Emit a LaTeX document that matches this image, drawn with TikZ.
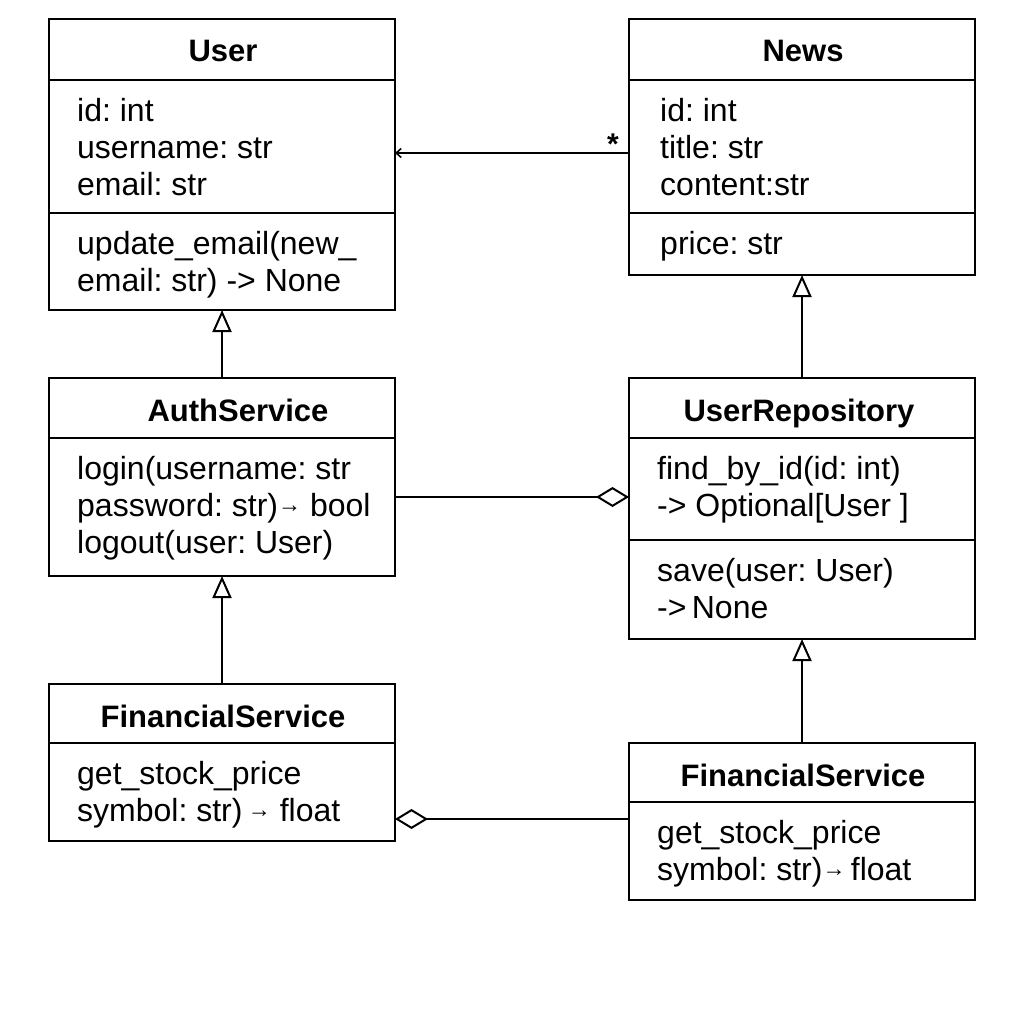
\documentclass[tikz,border=0pt]{standalone}
\usepackage{fontspec}
\setmainfont{Liberation Sans}
\usetikzlibrary{arrows.meta}
\frenchspacing
\newcommand{\smallarr}{{\fontsize{23}{23}\selectfont\raisebox{3.5pt}{→}}}
\begin{document}
\begin{tikzpicture}[x=1pt,y=-1pt,
  classbox/.style={draw, line width=2.2pt, inner sep=0pt, outer sep=0pt, minimum width=346pt},
  divider/.style={line width=2pt},
  conn/.style={line width=2pt},
  title/.style={font=\fontsize{31}{36}\selectfont\bfseries, anchor=base, inner sep=0pt},
  body/.style={font=\fontsize{32}{36.7}\selectfont, anchor=base west, inner sep=0pt},
  gen/.style={conn, -{Triangle[open, length=22pt, width=19pt, line width=2pt, fill=white]}},
  agg/.style={conn, -{Diamond[open, length=33pt, width=20pt, line width=2pt, fill=white]}},
  nav/.style={conn, -{Straight Barb[length=5pt, width=9pt, line width=1.6pt]}}]
\useasboundingbox (0,0) rectangle (1024,1024);
\fill[white] (0,0) rectangle (1024,1024);

% boxes
\node[classbox, minimum height=291pt] (user) at (222,164.5) {};
\node[classbox, minimum height=256pt] (news) at (802,147) {};
\node[classbox, minimum height=198pt] (auth) at (222,477) {};
\node[classbox, minimum height=261pt] (repo) at (802,508.5) {};
\node[classbox, minimum height=157pt] (finl) at (222,762.5) {};
\node[classbox, minimum height=157pt] (finr) at (802,821.5) {};

% dividers
\draw[divider] (user.west |- 0,80) -- (user.east |- 0,80);
\draw[divider] (user.west |- 0,213) -- (user.east |- 0,213);
\draw[divider] (news.west |- 0,80) -- (news.east |- 0,80);
\draw[divider] (news.west |- 0,213) -- (news.east |- 0,213);
\draw[divider] (auth.west |- 0,438) -- (auth.east |- 0,438);
\draw[divider] (repo.west |- 0,438) -- (repo.east |- 0,438);
\draw[divider] (repo.west |- 0,540) -- (repo.east |- 0,540);
\draw[divider] (finl.west |- 0,743) -- (finl.east |- 0,743);
\draw[divider] (finr.west |- 0,802) -- (finr.east |- 0,802);

% titles
\node[title] (userT) at (223,62) {User};
\node[title] (newsT) at (803,62) {News};
\node[title] (authT) at (238,421) {AuthService};
\node[title] (repoT) at (799,421) {UserRepository};
\node[title] (finlT) at (223,727) {FinancialService};
\node[title] (finrT) at (803,786) {FinancialService};

% User
\node[body] (u1) at (77,121.7) {id: int};
\node[body] (u2) at (77,158.4) {username: str};
\node[body] (u3) at (77,195.1) {email: str};
\node[body] (u4) at (77,254.7) {update\_email(new\_};
\node[body] (u5) at (77,291.4) {email: str) -> None};

% News
\node[body] (n1) at (660,121.7) {id: int};
\node[body] (n2) at (660,158.4) {title: str};
\node[body] (n3) at (660,195.1) {content:str};
\node[body] (n4) at (660,254.7) {price: str};

% AuthService
\node[body] (a1) at (77,479.7) {login(username: str};
\node[body] (a2) at (77,516.4) {password: str)\smallarr\ bool};
\node[body] (a3) at (77,553.1) {logout(user: User)};

% UserRepository
\node[body] (r1) at (657,479.7) {find\_by\_id(id: int)};
\node[body] (r2) at (657,516.4) {-> Optional[User ]};
\node[body] (r3) at (657,581.7) {save(user: User)};
\node[body] (r4) at (657,618.4) {->\,None};

% FinancialService left
\node[body] (fl1) at (77,784.7) {get\_stock\_price};
\node[body] (fl2) at (77,821.4) {symbol: str)\,\smallarr\ float};

% FinancialService right
\node[body] (fr1) at (657,843.7) {get\_stock\_price};
\node[body] (fr2) at (657,880.4) {symbol: str)\smallarr\,float};

% connectors
\coordinate (navS) at ([yshift=-6pt]news.west);
\draw[nav] (navS) -- (user.east |- navS);
\node[font=\fontsize{30}{30}\selectfont\bfseries, anchor=base, inner sep=0pt] (star) at (613,155) {*};

\draw[gen] (auth.north) -- (user.south);
\draw[gen] (repo.north) -- (news.south);
\draw[gen] (finl.north) -- (auth.south);
\draw[gen] (finr.north) -- (repo.south);

\coordinate (aggA) at ([yshift=-20pt]auth.east);
\draw[agg] (aggA) -- (repo.west |- aggA);
\coordinate (aggB) at ([yshift=2.5pt]finr.west);
\draw[agg] (aggB) -- (finl.east |- aggB);
\end{tikzpicture}
\end{document}
